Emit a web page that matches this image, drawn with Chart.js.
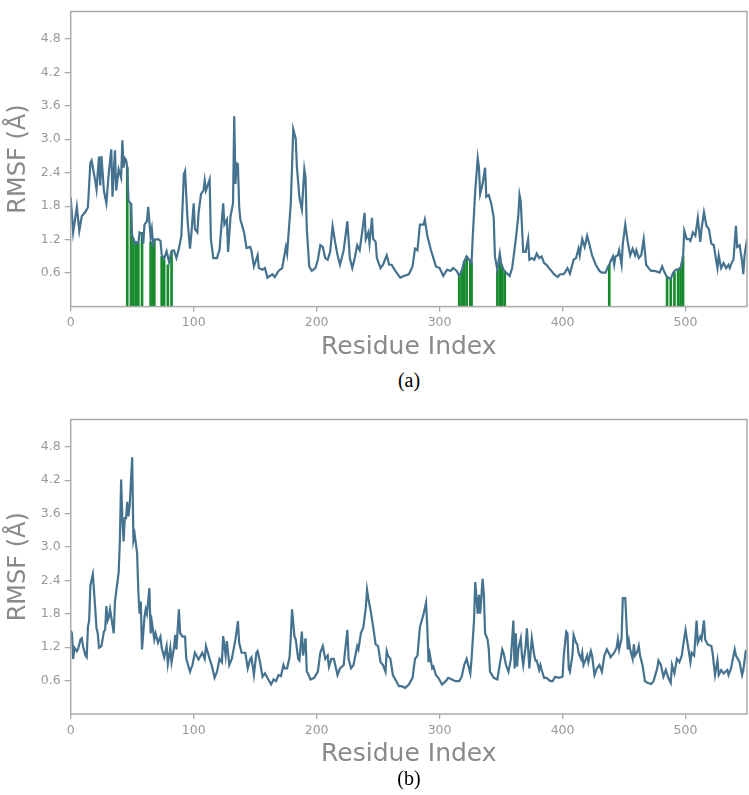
<!DOCTYPE html>
<html>
<head>
<meta charset="utf-8">
<script src="https://cdn.jsdelivr.net/npm/chart.js@4.4.0/dist/chart.umd.min.js"></script>
<style>
  body { margin: 0; background: #fff; width: 749px; height: 795px; position: relative; overflow: hidden; }
  canvas { position: absolute; left: 0; }
  #chartA { top: 0; }
  #chartB { top: 408px; }
  .cap { position: absolute; left: 0; width: 818px; text-align: center; font-family: "Liberation Serif", "DejaVu Serif", serif; font-size: 20px; line-height: 24px; color: #000; }
</style>
</head>
<body>
<canvas id="chartA" width="749" height="362"></canvas>
<div class="cap" style="top:368px">(a)</div>
<canvas id="chartB" width="749" height="361"></canvas>
<div class="cap" style="top:766px">(b)</div>
<script>
// axis ticks
const xTicks = [0, 100, 200, 300, 400, 500];
const yTicks = [0.6, 1.2, 1.8, 2.4, 3.0, 3.6, 4.2, 4.8];

// panel (a): residue index and RMSF
const resA = [0,2,5,7,9,12,14,16,17,20,21,23,24,25,27,29,31,33,34,36,37,39,41,42,43,44,45,46,47,49,50,51,52,53,55,56,58,59,60,62,63,65,66,67,68,71,73,74,76,78,80,82,84,86,88,90,92,93,95,97,98,100,101,103,104,106,108,109,110,113,114,116,119,120,121,124,125,127,128,130,132,133,134,135,136,137,138,141,143,146,147,149,152,153,156,158,160,164,166,169,172,175,176,179,181,183,184,186,188,190,191,192,194,196,199,201,203,205,207,209,211,213,215,217,219,222,225,227,229,231,233,235,237,239,240,242,243,245,246,248,249,252,254,257,259,261,264,268,271,275,278,280,282,284,287,288,290,293,295,297,300,303,306,309,311,314,316,318,320,322,324,326,327,329,331,332,333,335,337,338,340,342,344,345,347,349,350,351,352,354,357,359,362,364,365,366,368,370,372,373,375,377,379,381,383,385,387,389,391,393,396,398,401,404,406,409,411,413,414,416,418,420,422,424,427,430,432,435,437,438,439,441,442,443,445,446,448,449,451,453,455,457,459,460,462,464,466,468,470,472,475,479,481,483,485,488,490,492,494,496,498,499,501,503,504,506,508,510,512,513,515,517,519,521,523,525,526,527,529,531,533,535,536,538,539,541,542,544,546,547,548,550];
const rmsfA = [1.96,1.33,1.79,1.36,1.62,1.70,1.78,2.58,2.62,2.25,2.10,2.69,2.17,2.70,2.08,1.85,2.40,2.82,1.97,2.80,2.08,2.46,2.31,2.98,2.49,2.66,2.63,2.50,1.90,1.84,1.27,1.21,1.13,1.16,1.13,1.33,1.30,1.13,1.47,1.53,1.79,1.25,1.39,1.12,1.20,1.21,1.18,0.93,0.86,0.99,0.80,1.00,1.01,0.87,1.04,1.27,2.37,2.43,1.56,1.04,1.27,1.85,1.39,1.33,1.68,2.02,2.08,2.26,2.08,2.28,1.21,0.87,0.87,0.95,1.01,1.85,1.47,1.56,0.98,1.62,1.85,3.41,2.20,2.57,2.55,1.79,1.56,1.33,1.05,1.07,1.00,0.72,0.92,0.69,0.66,0.69,0.52,0.58,0.53,0.64,0.69,1.07,0.95,1.85,3.18,3.01,2.49,1.96,1.74,2.46,2.31,1.39,0.72,0.64,0.69,0.84,1.10,1.07,0.87,0.84,0.98,1.44,1.16,0.92,0.75,1.01,1.53,0.87,0.69,0.87,1.10,1.01,1.33,1.68,1.21,1.33,1.13,1.59,1.21,1.16,0.87,0.69,0.75,0.92,0.75,0.75,0.64,0.52,0.55,0.58,0.72,1.04,1.01,1.47,1.47,1.56,1.27,1.01,0.87,0.72,0.69,0.55,0.66,0.64,0.69,0.64,0.55,0.64,0.81,0.90,0.84,0.78,1.27,2.08,2.66,2.49,2.02,2.20,2.49,1.97,2.00,1.85,1.60,0.90,0.66,0.95,0.78,0.72,0.66,0.61,0.55,0.69,1.21,1.62,2.00,1.88,0.98,0.98,1.21,0.84,0.87,0.84,0.95,0.87,0.90,0.78,0.75,0.69,0.64,0.58,0.53,0.58,0.58,0.69,0.59,0.84,0.87,1.04,0.92,1.21,1.07,1.27,1.10,0.92,0.75,0.64,0.61,0.61,0.72,0.75,0.81,0.90,0.75,0.90,0.92,1.01,0.75,1.13,1.47,1.16,0.92,1.04,0.92,1.01,0.87,0.92,1.21,0.75,0.69,0.64,0.64,0.61,0.72,0.61,0.53,0.50,0.61,0.66,0.67,0.70,0.89,1.36,1.21,1.21,1.18,1.33,1.27,1.59,1.16,1.39,1.69,1.45,1.39,1.13,1.10,0.81,0.69,0.92,0.69,0.78,0.69,0.75,0.69,0.81,0.84,1.45,1.07,1.10,0.81,0.58,0.92,1.21];

// panel (a): highlighted residues (green bars)
const mutRes = [46,49,51,53,55,58,65,67,68,74,76,79,82,316,318,320,322,325,326,347,349,351,353,438,485,488,491,494,496,498];
const mutRmsf = [2.49,1.85,1.21,1.16,1.13,1.33,1.16,1.10,1.21,0.90,0.84,0.75,0.98,0.55,0.64,0.81,0.90,0.84,0.78,0.64,0.78,0.70,0.62,0.75,0.52,0.49,0.61,0.66,0.69,0.90];

// panel (b)
const resB = [0,1,2,3,5,6,8,9,10,12,13,14,15,16,18,19,21,22,23,25,27,28,29,30,31,32,33,35,36,37,39,40,41,42,43,44,45,46,47,48,50,51,52,54,55,56,57,58,60,61,62,64,65,66,68,69,71,73,74,76,78,79,81,82,84,85,86,88,89,91,93,94,97,99,101,104,107,109,110,113,115,117,119,121,123,124,126,127,129,131,134,136,137,139,142,144,146,147,149,151,152,154,156,158,160,163,165,167,169,171,173,174,176,178,179,180,182,183,185,186,188,189,191,192,193,195,198,201,203,205,207,209,210,212,214,217,219,222,223,225,226,228,230,233,234,236,238,240,241,242,244,246,248,250,252,254,256,257,258,260,262,264,267,269,272,275,278,280,282,284,287,289,290,291,292,294,295,297,299,302,305,307,310,313,316,318,320,322,325,326,328,329,331,332,333,335,336,337,339,340,341,344,347,349,351,352,354,356,358,360,361,362,363,364,366,367,368,370,371,373,374,375,377,378,379,381,382,383,385,387,390,392,394,397,400,401,403,404,405,406,408,409,411,412,413,415,416,417,419,420,421,423,424,426,428,430,432,434,436,438,439,442,444,445,446,448,449,451,453,454,455,457,458,459,461,462,463,465,467,469,472,474,477,478,480,482,484,486,488,489,491,493,495,497,498,500,502,504,505,507,509,510,512,513,515,516,518,521,522,524,526,527,529,531,534,535,537,540,541,544,546,547,549,550];
const rmsfB = [1.50,1.45,0.99,1.19,1.13,1.17,1.34,1.36,1.22,1.05,1.02,1.56,1.68,2.31,2.51,2.20,1.54,1.45,1.19,1.22,1.48,1.51,1.94,1.68,1.74,1.88,1.74,1.45,2.02,2.20,2.54,3.12,4.21,3.52,3.10,3.52,3.52,3.81,3.55,3.75,4.61,3.12,3.23,2.89,2.20,1.80,2.02,1.16,1.74,1.88,1.80,2.26,1.45,1.65,1.34,1.45,1.28,1.39,1.19,1.02,1.22,0.90,1.19,0.93,1.19,1.42,1.16,1.88,1.45,1.39,1.39,0.99,0.76,0.88,1.10,0.98,1.10,0.99,1.22,0.99,0.85,0.65,0.76,0.99,0.93,1.40,1.05,1.31,0.88,0.99,1.34,1.67,1.28,1.10,1.10,0.82,0.99,1.02,0.70,1.10,1.13,0.93,0.67,0.73,0.65,0.53,0.62,0.59,0.70,0.68,0.88,0.82,0.82,1.02,1.39,1.88,1.39,1.34,0.99,0.96,1.48,1.05,1.36,0.76,0.73,0.62,0.65,0.76,1.10,1.22,0.99,1.05,0.85,0.99,0.99,0.70,0.82,0.88,1.10,1.51,0.99,0.82,0.88,1.22,1.16,1.45,1.56,1.91,2.23,2.08,1.85,1.56,1.25,1.22,0.93,0.88,0.76,1.13,1.05,0.99,0.70,0.62,0.50,0.50,0.47,0.53,0.65,0.99,1.05,1.56,1.80,2.00,1.56,0.93,1.08,0.82,0.85,0.70,0.65,0.53,0.59,0.65,0.62,0.59,0.59,0.67,0.88,0.99,0.73,0.99,1.68,2.37,1.80,2.14,1.80,2.43,2.14,1.45,1.34,1.16,0.76,0.65,0.62,0.90,1.16,1.10,0.88,0.76,0.99,1.68,0.82,1.45,0.85,1.16,1.36,1.05,0.88,1.22,1.54,0.82,1.10,1.36,1.05,0.96,0.96,0.79,0.88,0.79,0.65,0.65,0.59,0.59,0.67,0.65,0.67,1.05,1.48,1.45,0.82,0.76,1.05,1.42,1.28,1.25,1.10,0.99,1.10,0.88,0.99,1.05,0.93,1.13,1.05,0.70,0.82,0.88,0.76,1.05,1.16,1.08,1.02,1.10,1.19,1.34,1.16,1.36,2.08,2.08,1.16,1.31,1.16,0.99,1.25,1.05,1.13,1.22,1.05,0.88,0.59,0.56,0.54,0.59,0.82,0.96,0.88,0.67,0.79,0.65,0.56,0.88,0.73,0.99,0.93,1.05,1.22,1.51,1.22,0.93,1.10,1.05,1.68,1.28,1.39,1.34,1.68,1.34,1.25,1.22,1.10,0.70,0.96,0.70,0.79,0.73,0.79,0.70,0.82,1.16,1.05,0.93,0.70,0.79,1.13,1.15];

const lineColor = '#44728f';
const barColor = '#178a2d';
const axisColor = '#aaaaaa';
const tickColor = '#999999';
const titleColor = '#8a8a8a';

// box around the plotting area, like matplotlib spines
const frame = {
  id: 'frame',
  afterDraw(chart) {
    const { ctx, chartArea: a } = chart;
    ctx.save();
    ctx.strokeStyle = axisColor;
    ctx.lineWidth = 1.5;
    ctx.strokeRect(a.left, a.top, a.right - a.left, a.bottom - a.top);
    ctx.restore();
  }
};

function makeChart(id, res, vals, barRes, barVals, xAxisHeight) {
  const datasets = [{
    type: 'line',
    data: res.map((r, i) => ({ x: r, y: vals[i] })),
    borderColor: lineColor,
    borderWidth: 2.2,
    pointRadius: 0,
    tension: 0,
    order: 0
  }];
  if (barRes) {
    datasets.push({
      type: 'bar',
      data: barRes.map((r, i) => ({ x: r, y: barVals[i] })),
      backgroundColor: barColor,
      barThickness: 2,
      order: 1
    });
  }

  return new Chart(document.getElementById(id), {
    type: 'line',
    data: { datasets },
    plugins: [frame],
    options: {
      responsive: false,
      animation: false,
      events: [],
      layout: { padding: { top: 2, right: 2, left: 0, bottom: 0 } },
      plugins: { legend: { display: false }, tooltip: { enabled: false } },
      scales: {
        x: {
          type: 'linear',
          min: 0,
          max: 550,
          offset: false,
          afterBuildTicks: s => { s.ticks = xTicks.map(v => ({ value: v })); },
          afterFit: s => { s.height = xAxisHeight; },
          ticks: {
            autoSkip: false,
            maxRotation: 0,
            padding: 4,
            color: tickColor,
            font: { family: 'DejaVu Sans', size: 12.5 },
            callback: v => String(v)
          },
          grid: { drawOnChartArea: false, drawTicks: true, tickLength: 5, color: axisColor, lineWidth: 1.3, offset: false },
          border: { display: false },
          title: {
            display: true,
            text: 'Residue Index',
            color: titleColor,
            font: { family: 'DejaVu Sans', size: 25 },
            padding: { top: 0, bottom: 0 }
          }
        },
        y: {
          min: 0,
          max: 5.29,
          afterBuildTicks: s => { s.ticks = yTicks.map(v => ({ value: v })); },
          afterFit: s => { s.width = 70.7; },
          ticks: {
            autoSkip: false,
            padding: 4,
            color: tickColor,
            font: { family: 'DejaVu Sans', size: 12.5 },
            callback: v => v.toFixed(1)
          },
          grid: { drawOnChartArea: false, drawTicks: true, tickLength: 6, color: axisColor, lineWidth: 1.3 },
          border: { display: false },
          title: {
            display: true,
            text: 'RMSF (Å)',
            color: titleColor,
            font: { family: 'DejaVu Sans', size: 24 },
            padding: { top: 4, bottom: 0 }
          }
        }
      }
    }
  });
}

makeChart('chartA', resA, rmsfA, mutRes, mutRmsf, 55.4);
makeChart('chartB', resB, rmsfB, null, null, 55);
</script>
</body>
</html>
